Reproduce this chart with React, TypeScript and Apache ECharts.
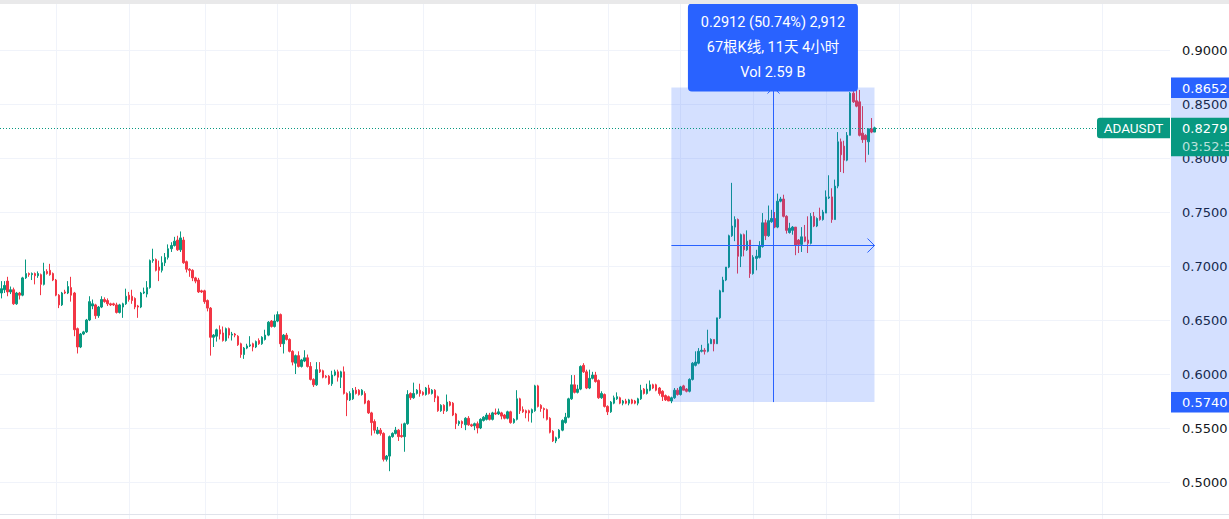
import React, { useEffect, useRef } from 'react';
import * as echarts from 'echarts';

// [open, close, low, high] for each 4h candle, ADAUSDT
const segA: number[][] = [
  [0.675,0.679,0.670,0.686],[0.678,0.682,0.675,0.686],[0.686,0.676,0.672,0.690],[0.676,0.678,0.674,0.681],
  [0.678,0.665,0.664,0.680],[0.665,0.675,0.664,0.676],[0.675,0.673,0.669,0.676],[0.673,0.689,0.672,0.690],
  [0.689,0.693,0.688,0.706],[0.693,0.692,0.690,0.694],[0.692,0.693,0.687,0.694],[0.693,0.691,0.683,0.694],
  [0.691,0.693,0.689,0.695],[0.692,0.683,0.673,0.693],[0.683,0.695,0.682,0.703],[0.695,0.693,0.692,0.697],
  [0.696,0.692,0.691,0.702],[0.693,0.687,0.686,0.694],[0.687,0.673,0.672,0.688],[0.673,0.664,0.661,0.674],
  [0.664,0.675,0.663,0.676],[0.676,0.675,0.674,0.678],[0.675,0.681,0.674,0.686],[0.680,0.673,0.667,0.690],
  [0.675,0.641,0.635,0.676],[0.642,0.625,0.619,0.643],[0.625,0.637,0.624,0.638],[0.637,0.639,0.636,0.640],
  [0.639,0.650,0.638,0.651],[0.650,0.667,0.649,0.672],[0.663,0.665,0.660,0.669],[0.664,0.654,0.651,0.665],
  [0.654,0.662,0.652,0.663],[0.662,0.669,0.661,0.672],[0.669,0.667,0.666,0.671],[0.668,0.665,0.663,0.670],
  [0.665,0.664,0.663,0.666],[0.665,0.664,0.663,0.666],[0.664,0.657,0.656,0.666],[0.657,0.664,0.656,0.665],
  [0.662,0.665,0.652,0.666],[0.665,0.672,0.664,0.679],[0.673,0.669,0.667,0.676],[0.672,0.668,0.665,0.678],
  [0.670,0.662,0.660,0.671],[0.663,0.662,0.652,0.664],[0.662,0.675,0.661,0.676],[0.675,0.676,0.674,0.680],
  [0.674,0.680,0.671,0.686],[0.680,0.705,0.679,0.706],[0.705,0.706,0.703,0.716],[0.706,0.696,0.695,0.707],
  [0.699,0.696,0.686,0.705],[0.696,0.703,0.694,0.709],[0.703,0.708,0.700,0.712],[0.708,0.716,0.706,0.720],
  [0.716,0.719,0.713,0.722],[0.719,0.723,0.718,0.727],[0.724,0.715,0.714,0.728],[0.715,0.726,0.713,0.732],
  [0.724,0.703,0.702,0.727],[0.704,0.697,0.694,0.705],[0.697,0.696,0.690,0.698],[0.696,0.689,0.686,0.697],
  [0.689,0.686,0.684,0.690],[0.687,0.676,0.675,0.689],[0.677,0.676,0.675,0.678],[0.677,0.667,0.665,0.678],
  [0.668,0.661,0.658,0.669],[0.661,0.634,0.617,0.662],[0.634,0.636,0.625,0.637],[0.635,0.641,0.630,0.642],
  [0.641,0.637,0.632,0.645],
];
const segB: number[][] = [
  [0.638,0.631,0.630,0.644],[0.631,0.642,0.630,0.643],[0.642,0.636,0.633,0.643],[0.636,0.637,0.631,0.639],
  [0.637,0.636,0.634,0.638],[0.635,0.627,0.626,0.636],[0.628,0.618,0.615,0.629],[0.618,0.624,0.614,0.625],
  [0.624,0.626,0.623,0.628],[0.626,0.627,0.625,0.635],[0.628,0.625,0.621,0.629],[0.625,0.630,0.624,0.631],
  [0.631,0.628,0.627,0.633],[0.628,0.634,0.627,0.635],[0.632,0.636,0.631,0.641],[0.636,0.648,0.635,0.649],
  [0.649,0.644,0.643,0.650],[0.644,0.649,0.643,0.655],[0.649,0.655,0.648,0.658],[0.655,0.628,0.625,0.656],
  [0.628,0.636,0.619,0.637],[0.636,0.632,0.631,0.638],[0.632,0.621,0.620,0.633],[0.621,0.611,0.608,0.622],
  [0.610,0.617,0.600,0.618],[0.617,0.607,0.606,0.621],[0.607,0.613,0.606,0.614],[0.612,0.615,0.611,0.622],
  [0.615,0.607,0.606,0.618],[0.607,0.595,0.594,0.611],[0.595,0.590,0.588,0.596],[0.590,0.604,0.589,0.611],
  [0.604,0.602,0.601,0.611],[0.603,0.597,0.596,0.604],[0.598,0.597,0.596,0.599],[0.598,0.591,0.590,0.599],
  [0.591,0.599,0.589,0.603],[0.599,0.602,0.598,0.604],[0.602,0.597,0.593,0.604],[0.597,0.602,0.587,0.603],
  [0.602,0.582,0.581,0.607],[0.582,0.576,0.561,0.583],[0.576,0.582,0.575,0.584],[0.577,0.585,0.576,0.587],
  [0.585,0.582,0.581,0.588],[0.585,0.581,0.580,0.586],[0.581,0.585,0.580,0.586],[0.582,0.573,0.572,0.584],
  [0.575,0.564,0.563,0.576],[0.564,0.555,0.543,0.565],[0.556,0.548,0.545,0.558],[0.545,0.548,0.544,0.551],
  [0.548,0.545,0.543,0.550],[0.545,0.521,0.519,0.546],[0.521,0.524,0.519,0.525],[0.524,0.542,0.510,0.543],
  [0.542,0.545,0.541,0.546],[0.545,0.548,0.544,0.551],[0.548,0.542,0.538,0.549],[0.543,0.542,0.541,0.554],
  [0.542,0.554,0.528,0.555],[0.554,0.581,0.553,0.585],
];
const segC: number[][] = [
  [0.582,0.578,0.576,0.583],[0.578,0.582,0.577,0.592],[0.582,0.585,0.581,0.586],[0.585,0.582,0.579,0.591],
  [0.583,0.581,0.580,0.584],[0.581,0.587,0.580,0.588],[0.587,0.582,0.581,0.590],[0.582,0.585,0.581,0.586],
  [0.585,0.578,0.574,0.586],[0.579,0.566,0.565,0.580],[0.566,0.571,0.565,0.572],[0.571,0.566,0.563,0.572],
  [0.566,0.574,0.565,0.581],[0.574,0.571,0.570,0.575],[0.573,0.562,0.561,0.574],[0.563,0.554,0.549,0.564],
  [0.554,0.556,0.552,0.557],[0.556,0.554,0.550,0.557],[0.553,0.559,0.548,0.560],[0.559,0.553,0.552,0.561],
  [0.553,0.552,0.551,0.554],[0.552,0.554,0.548,0.555],[0.554,0.550,0.545,0.556],[0.550,0.558,0.549,0.559],
  [0.557,0.560,0.556,0.561],[0.558,0.562,0.557,0.564],[0.562,0.558,0.557,0.564],[0.558,0.564,0.557,0.565],
  [0.564,0.563,0.562,0.568],[0.563,0.565,0.562,0.568],[0.564,0.561,0.558,0.565],[0.562,0.559,0.558,0.563],
  [0.559,0.565,0.558,0.566],[0.565,0.555,0.554,0.566],[0.555,0.558,0.554,0.559],[0.558,0.577,0.557,0.585],
  [0.577,0.566,0.563,0.578],[0.567,0.565,0.564,0.570],[0.566,0.564,0.559,0.567],[0.566,0.564,0.556,0.567],
  [0.564,0.567,0.555,0.568],[0.566,0.589,0.565,0.590],
];
const segD: number[][] = [
  [0.589,0.570,0.569,0.590],[0.571,0.568,0.565,0.572],[0.568,0.567,0.559,0.569],[0.567,0.558,0.557,0.568],
  [0.559,0.546,0.545,0.560],[0.547,0.538,0.537,0.548],[0.538,0.541,0.536,0.542],[0.541,0.548,0.540,0.549],
  [0.548,0.557,0.547,0.558],[0.555,0.560,0.554,0.564],[0.560,0.577,0.559,0.578],[0.577,0.590,0.576,0.599],
  [0.590,0.583,0.582,0.599],[0.583,0.586,0.582,0.590],[0.586,0.607,0.585,0.608],[0.608,0.602,0.601,0.610],
  [0.602,0.587,0.586,0.604],[0.587,0.596,0.586,0.604],[0.596,0.599,0.595,0.602],[0.599,0.593,0.592,0.602],
  [0.594,0.578,0.577,0.595],[0.578,0.582,0.577,0.584],[0.581,0.570,0.569,0.582],[0.570,0.565,0.562,0.571],
  [0.565,0.574,0.564,0.575],[0.573,0.578,0.572,0.580],[0.577,0.579,0.576,0.583],[0.578,0.573,0.572,0.579],
  [0.573,0.575,0.571,0.576],[0.575,0.573,0.572,0.577],[0.573,0.576,0.571,0.577],[0.576,0.573,0.572,0.577],
  [0.575,0.573,0.572,0.576],[0.573,0.577,0.571,0.578],[0.577,0.585,0.576,0.590],[0.586,0.582,0.581,0.587],
  [0.582,0.586,0.581,0.591],[0.585,0.590,0.584,0.594],[0.590,0.587,0.586,0.591],[0.590,0.585,0.584,0.591],
  [0.587,0.582,0.580,0.588],[0.584,0.579,0.575,0.585],[0.580,0.576,0.575,0.581],[0.579,0.575,0.575,0.580],
  [0.575,0.578,0.573,0.579],[0.578,0.585,0.577,0.587],[0.585,0.581,0.580,0.587],[0.581,0.588,0.580,0.589],
];
const segE: number[][] = [
  [0.589,0.585,0.585,0.590],[0.586,0.584,0.583,0.587],[0.584,0.595,0.583,0.596],[0.595,0.610,0.594,0.611],
  [0.608,0.611,0.607,0.621],[0.610,0.621,0.609,0.624],[0.621,0.622,0.620,0.627],[0.622,0.621,0.618,0.624],
  [0.621,0.628,0.620,0.641],[0.628,0.632,0.628,0.633],[0.632,0.628,0.621,0.632],[0.628,0.652,0.628,0.652],
  [0.652,0.677,0.651,0.678],[0.676,0.687,0.676,0.690],[0.687,0.699,0.686,0.699],[0.699,0.728,0.698,0.729],
  [0.728,0.737,0.727,0.777],[0.736,0.743,0.723,0.746],[0.743,0.709,0.693,0.744],[0.709,0.729,0.699,0.730],
  [0.729,0.715,0.709,0.730],[0.715,0.723,0.714,0.733],[0.724,0.693,0.689,0.724],[0.693,0.708,0.692,0.710],
  [0.707,0.709,0.696,0.715],[0.708,0.719,0.707,0.723],[0.718,0.740,0.717,0.749],[0.740,0.728,0.724,0.743],
  [0.728,0.742,0.727,0.756],[0.741,0.744,0.740,0.752],[0.744,0.736,0.735,0.750],[0.736,0.760,0.735,0.767],
  [0.760,0.762,0.759,0.764],[0.762,0.746,0.745,0.766],[0.746,0.733,0.730,0.747],[0.731,0.735,0.730,0.740],
  [0.733,0.736,0.729,0.737],[0.736,0.719,0.710,0.736],[0.724,0.720,0.712,0.725],[0.720,0.727,0.713,0.736],
  [0.727,0.723,0.722,0.738],[0.724,0.721,0.712,0.746],[0.721,0.746,0.720,0.749],[0.746,0.737,0.736,0.750],
  [0.737,0.744,0.736,0.745],[0.746,0.743,0.742,0.754],[0.743,0.750,0.742,0.752],[0.749,0.764,0.749,0.770],
  [0.763,0.764,0.762,0.784],[0.764,0.743,0.740,0.772],[0.743,0.774,0.743,0.780],[0.774,0.815,0.772,0.824],
  [0.815,0.803,0.787,0.818],[0.811,0.798,0.786,0.816],[0.798,0.821,0.797,0.824],[0.821,0.860,0.821,0.861],
  [0.860,0.852,0.851,0.864],[0.853,0.848,0.847,0.863],[0.852,0.821,0.820,0.863],[0.823,0.817,0.814,0.848],
  [0.821,0.817,0.796,0.822],[0.815,0.827,0.803,0.827],[0.827,0.824,0.823,0.837],[0.824,0.8279,0.824,0.829],
];

const candles = [...segA, ...segB, ...segC, ...segD, ...segE];
const SLOT_COUNT = 386; // bars + empty right margin
const slots = Array.from({ length: SLOT_COUNT }, (_, i) => String(i));
const timeGridIdx = [18, 42, 67, 91, 115, 139, 176, 200, 224, 248, 272, 296, 320, 363];
const symbolName = 'ADAUSDT';
const lastPrice = 0.8279;
const countdown = '03:52:59';
const measureStartIdx = 221;
const measureEndIdx = 288;
const measureLow = 0.574;
const measureHigh = 0.8652;
const measureLines = ['0.2912 (50.74%) 2,912', '67根K线, 11天 4小时', 'Vol 2.59 B'];

const UP = '#089981';
const DOWN = '#F23645';
const BLUE = '#2962FF';
const AXIS_FONT = "'DejaVu Sans', sans-serif";
const TIP_FONT = "Roboto, 'Noto Sans CJK SC', sans-serif";

const W = 1229;
const H = 519;
const OFF = 4; // chart canvas starts 4px above the page
const CH = 545;

export default function App() {
  const ref = useRef<HTMLDivElement>(null);
  useEffect(() => {
    document.body.style.margin = '0';
    if (!ref.current) return;
    const chart = echarts.init(ref.current, undefined, { renderer: 'svg' });
    chart.setOption({
      animation: false,
      grid: { left: 0, right: 59, top: 0, bottom: CH - 540, outerBoundsMode: 'none', containLabel: false },
      xAxis: { type: 'category', data: slots, boundaryGap: true, show: false },
      yAxis: {
        type: 'value', position: 'right', min: 0.45, max: 0.95, interval: 0.05,
        axisLine: { show: false }, axisTick: { show: false },
        axisLabel: {
          formatter: (v: number) => v.toFixed(4), color: '#131722', fontFamily: AXIS_FONT, fontSize: 13, margin: 12,
          showMinLabel: false, showMaxLabel: false,
        },
        splitLine: { lineStyle: { color: '#f0f3fa', width: 1 } },
      },
      series: [{
        type: 'candlestick', data: candles, barWidth: 2, silent: true,
        itemStyle: { color: UP, color0: DOWN, borderColor: UP, borderColor0: DOWN, borderWidth: 1 },
      }],
    });

    const px = (i: number, v: number) => chart.convertToPixel({ xAxisIndex: 0, yAxisIndex: 0 }, [i, v]) as number[];
    const x0 = px(measureStartIdx, measureLow)[0];
    const x1 = px(measureEndIdx, measureLow)[0];
    const yBot = px(measureStartIdx, measureLow)[1];
    const yTop = px(measureEndIdx, measureHigh)[1];
    const yLast = px(0, lastPrice)[1];
    const xm = (x0 + x1) / 2;
    const ym = (yTop + yBot) / 2;
    const axisX = 1171;

    const els: any[] = [];
    timeGridIdx.forEach((i) => {
      const x = Math.round(px(i, 0.5)[0]) + 0.5;
      els.push({ type: 'line', silent: true, z: 0, shape: { x1: x, y1: OFF + 4, x2: x, y2: OFF + H }, style: { stroke: '#f0f3fa', lineWidth: 1 } });
    });
    // bottom time-axis border
    els.push({ type: 'line', silent: true, z: 90, shape: { x1: 0, y1: OFF + 514.5, x2: W, y2: OFF + 514.5 }, style: { stroke: '#e0e3eb', lineWidth: 1 } });
    // top bar
    els.push({ type: 'rect', silent: true, z: 90, shape: { x: 0, y: 0, width: W, height: OFF + 4 }, style: { fill: '#e9e9ea' } });
    // measure area
    els.push({ type: 'rect', silent: true, z: 50, shape: { x: x0, y: yTop, width: x1 - x0, height: yBot - yTop }, style: { fill: 'rgba(41,98,255,0.2)' } });
    // last price dotted line
    const yl = Math.round(yLast) + 0.5;
    els.push({ type: 'line', silent: true, z: 51, shape: { x1: 0, y1: yl, x2: 1097, y2: yl }, style: { stroke: UP, lineWidth: 1, lineDash: [1, 2] } });
    // arrows
    const xmc = Math.round(xm) + 0.5;
    const ymc = Math.round(ym) + 0.5;
    els.push({ type: 'line', silent: true, z: 52, shape: { x1: xmc, y1: yBot, x2: xmc, y2: yTop }, style: { stroke: BLUE, lineWidth: 1 } });
    els.push({ type: 'polyline', silent: true, z: 52, shape: { points: [[xmc - 6, yTop + 6], [xmc, yTop], [xmc + 6, yTop + 6]] }, style: { stroke: BLUE, lineWidth: 1, fill: 'none' } });
    els.push({ type: 'line', silent: true, z: 52, shape: { x1: x0, y1: ymc, x2: x1, y2: ymc }, style: { stroke: BLUE, lineWidth: 1 } });
    els.push({ type: 'polyline', silent: true, z: 52, shape: { points: [[x1 - 7, ymc - 7], [x1, ymc], [x1 - 7, ymc + 7]] }, style: { stroke: BLUE, lineWidth: 1, fill: 'none' } });
    // measure tooltip
    const tipH = 88;
    const tipTop = yTop + 4 - tipH;
    els.push({ type: 'rect', silent: true, z: 60, shape: { x: xm - 85, y: tipTop, width: 170, height: tipH, r: 4 }, style: { fill: BLUE } });
    [18.5, 44, 68.5].forEach((dy, k) => {
      els.push({ type: 'text', silent: true, z: 61, x: xm, y: tipTop + dy, style: { text: measureLines[k], fill: '#ffffff', font: `14.5px ${TIP_FONT}`, textAlign: 'center', textVerticalAlign: 'middle' } });
    });
    // axis highlight band
    els.push({ type: 'rect', silent: true, z: 5, shape: { x: axisX, y: yTop, width: W - axisX, height: yBot - yTop }, style: { fill: 'rgba(41,98,255,0.2)' } });
    // blue price labels
    const blueLabel = (y: number, v: number) => {
      els.push({ type: 'rect', silent: true, z: 70, shape: { x: axisX, y: y - 10, width: W - axisX, height: 20.5 }, style: { fill: BLUE } });
      els.push({ type: 'text', silent: true, z: 71, x: 1182, y: y + 0.5, style: { text: v.toFixed(4), fill: '#ffffff', font: `13px ${AXIS_FONT}`, textAlign: 'left', textVerticalAlign: 'middle' } });
    };
    blueLabel(yTop, measureHigh);
    blueLabel(yBot, measureLow);
    // last price label
    els.push({ type: 'rect', silent: true, z: 70, shape: { x: axisX, y: yLast - 10, width: W - axisX, height: 38.5 }, style: { fill: UP } });
    els.push({ type: 'text', silent: true, z: 71, x: 1182, y: yLast + 0.5, style: { text: lastPrice.toFixed(4), fill: '#ffffff', font: `13px ${AXIS_FONT}`, textAlign: 'left', textVerticalAlign: 'middle' } });
    els.push({ type: 'text', silent: true, z: 71, x: 1182, y: yLast + 19, style: { text: countdown, fill: 'rgba(255,255,255,0.72)', font: `13px ${AXIS_FONT}`, textAlign: 'left', textVerticalAlign: 'middle' } });
    // symbol label
    els.push({ type: 'rect', silent: true, z: 70, shape: { x: 1097, y: yLast - 10, width: 73, height: 20.5, r: [3, 0, 0, 3] }, style: { fill: UP } });
    els.push({ type: 'text', silent: true, z: 71, x: 1133.5, y: yLast + 0.5, style: { text: symbolName, fill: '#ffffff', font: `13.5px ${TIP_FONT}`, textAlign: 'center', textVerticalAlign: 'middle' } });

    chart.setOption({ graphic: { elements: els } });
    return () => chart.dispose();
  }, []);
  return (
    <div style={{ width: W, height: H, overflow: 'hidden', position: 'relative' }}>
      <div ref={ref} style={{ width: W, height: CH, position: 'absolute', left: 0, top: -OFF }} />
    </div>
  );
}
